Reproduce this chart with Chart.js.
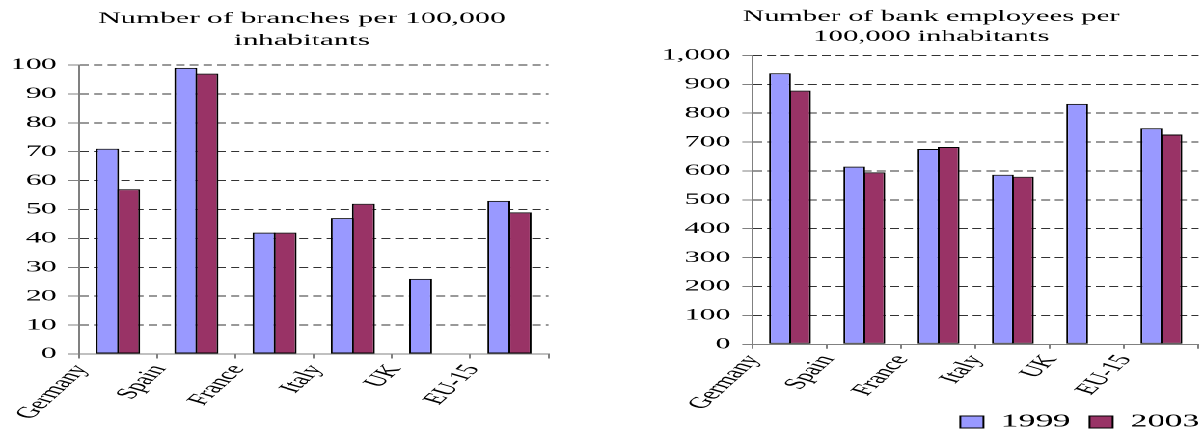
<!DOCTYPE html>
<html>
<head>
<meta charset="utf-8">
<script src="https://cdn.jsdelivr.net/npm/chart.js@4.4.1/dist/chart.umd.min.js"></script>
<style>
  html, body { margin: 0; padding: 0; background: #fff; overflow: hidden; }
  body { width: 1204px; height: 438px; position: relative; }
  /* both charts are laid out on a narrow stage that is widened horizontally */
  #stage { position: absolute; left: 0; top: 0; width: 624px; height: 438px;
           transform: scaleX(1.9295); transform-origin: 0 0; }
  #branches { position: absolute; left: 0; top: 0; }
  #employees { position: absolute; left: 342px; top: 0; }
</style>
</head>
<body>
<div id="stage">
  <canvas id="branches" width="313" height="438"></canvas>
  <canvas id="employees" width="282" height="438"></canvas>
</div>
<script>
// Countries on the category axis
const countries = ['Germany', 'Spain', 'France', 'Italy', 'UK', 'EU-15'];
const seriesNames = ['1999', '2003'];

// Branches per 100,000 inhabitants
const branches1999 = [71, 99, 42, 47, 26, 53];
const branches2003 = [57, 97, 42, 52, null, 49];
const branchTicks = [0, 10, 20, 30, 40, 50, 60, 70, 80, 90, 100];

// Bank employees per 100,000 inhabitants
const employees1999 = [938, 615, 676, 587, 832, 748];
const employees2003 = [878, 595, 683, 580, null, 726];
const employeeTicks = [0, 100, 200, 300, 400, 500, 600, 700, 800, 900, 1000];

const colors = ['#9999FF', '#993366'];
const serif = 'Liberation Serif, "Times New Roman", serif';
const axisGray = '#808080';
const gridDark = '#333333';

// paired bars overlap by one border width so neighbours share a single outline
function datasets(a, b) {
  return [a, b].map((data, i) => ({
    label: seriesNames[i],
    data: data,
    backgroundColor: colors[i],
    borderColor: '#000',
    borderWidth: 1,
    borderSkipped: false,
    inflateAmount: 0,
    categoryPercentage: 0.54,
    barPercentage: 1.09
  }));
}

// tick labels may spill outside their (tightly sized) scale box
function noLabelClip(scale) {
  scale._computeLabelArea = () => undefined;
}

// moves the legend box after layout (used for the bottom-right legend)
const legendNudge = {
  id: 'legendNudge',
  afterLayout(chart, args, opts) {
    const lg = chart.legend;
    if (!lg || !opts || (!opts.dx && !opts.dy)) return;
    lg.left += opts.dx || 0; lg.right += opts.dx || 0;
    lg.top += opts.dy || 0; lg.bottom += opts.dy || 0;
  }
};

function buildChart(id, cfg) {
  return new Chart(document.getElementById(id), {
    type: 'bar',
    data: { labels: countries, datasets: datasets(cfg.a, cfg.b) },
    plugins: [legendNudge],
    options: {
      responsive: false,
      animation: false,
      devicePixelRatio: 2,
      locale: 'en-US',
      layout: { padding: cfg.padding },
      plugins: {
        title: {
          display: true,
          text: cfg.title,
          color: '#000',
          font: { family: serif, size: cfg.titleSize, weight: 'normal', lineHeight: cfg.titleLine },
          padding: cfg.titlePad
        },
        legend: cfg.legend,
        legendNudge: cfg.nudge,
        tooltip: { enabled: false }
      },
      scales: {
        x: {
          offset: true,
          grid: { drawOnChartArea: false, offset: true, color: axisGray, tickLength: 4.5, lineWidth: 1 },
          border: { display: true, color: axisGray, width: 1 },
          ticks: {
            color: '#000',
            font: { family: serif, size: 16 },
            minRotation: 60, maxRotation: 60,
            labelOffset: cfg.labelOffset,
            padding: 3,
            autoSkip: false
          },
          afterFit(scale) {
            scale.height = cfg.xHeight;
            scale.paddingLeft = 0;
            scale.paddingRight = 0;
            noLabelClip(scale);
          }
        },
        y: {
          min: cfg.ticks[0],
          max: cfg.ticks[cfg.ticks.length - 1],
          afterBuildTicks(scale) { scale.ticks = cfg.ticks.map(v => ({ value: v })); },
          grid: {
            color: c => (c.tick && c.tick.value === 0 ? 'rgba(0,0,0,0)' : gridDark),
            tickColor: axisGray,
            tickLength: 5.5,
            lineWidth: 1
          },
          border: { display: true, color: axisGray, width: 1, dash: [4.5, 2.6] },
          ticks: {
            color: '#000',
            font: { family: serif, size: 16 },
            padding: 6
          },
          afterFit(scale) {
            scale.width = cfg.yWidth;
            noLabelClip(scale);
          }
        }
      }
    }
  });
}

buildChart('branches', {
  a: branches1999, b: branches2003,
  title: ['Number of branches per 100,000', 'inhabitants'],
  titleSize: 16, titleLine: 1.375,
  titlePad: { top: 8, bottom: 13 },
  ticks: branchTicks,
  padding: { left: 28.7, right: 28.7, top: 0, bottom: 0 },
  yWidth: 12.2,
  xHeight: 84,
  labelOffset: -19,
  legend: { display: false },
  nudge: {}
});

buildChart('employees', {
  a: employees1999, b: employees2003,
  title: ['Number of bank employees per', '100,000 inhabitants'],
  titleSize: 15.5, titleLine: 1.29,
  titlePad: { top: 7, bottom: 8.4 },
  ticks: employeeTicks,
  padding: { left: 2, right: 2.8, top: 0, bottom: 0 },
  yWidth: 46.2,
  xHeight: 55.7,
  labelOffset: -19,
  legend: {
    display: true,
    position: 'bottom',
    align: 'end',
    labels: {
      color: '#000',
      font: { family: serif, size: 18 },
      boxWidth: 12, boxHeight: 12,
      padding: 10
    }
  },
  nudge: { dx: 10.5, dy: 3 }
});
</script>
</body>
</html>
